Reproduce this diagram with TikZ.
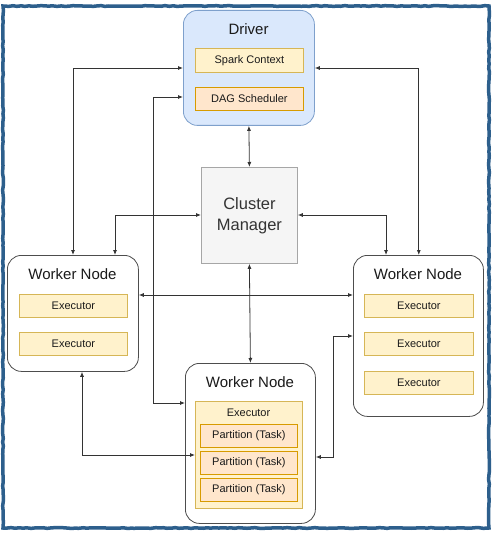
\documentclass[tikz,border=0pt]{standalone}
\usepackage{fontspec}
\setmainfont{Liberation Sans}
\usepackage{xcolor}
\usepackage{tikz}
\usetikzlibrary{calc,arrows.meta,decorations.pathmorphing}
\definecolor{framec}{HTML}{2D5F8C}
\definecolor{drvfill}{HTML}{DAE8FC}
\definecolor{drvdraw}{HTML}{7EA0CC}
\definecolor{ctxfill}{HTML}{FFF2CC}
\definecolor{ctxdraw}{HTML}{D6B656}
\definecolor{dagfill}{HTML}{FFE6CC}
\definecolor{dagdraw}{HTML}{D79B00}
\definecolor{mgrfill}{HTML}{F5F5F5}
\definecolor{mgrdraw}{HTML}{A6A6A6}
\definecolor{wrkdraw}{HTML}{4D4D4D}
\definecolor{linec}{HTML}{333333}
\definecolor{text}{HTML}{1A1A1A}
\tikzset{
  frame/.style={draw=framec, line width=3.5pt, decorate, decoration={random steps, segment length=4pt, amplitude=0.4pt}},
  cont/.style={anchor=north west, inner sep=0pt, line width=0.8pt, rounded corners=14pt},
  drv/.style={cont, draw=drvdraw, fill=drvfill},
  wrk/.style={cont, draw=wrkdraw, fill=white},
  mgr/.style={anchor=north west, inner sep=0pt, draw=mgrdraw, fill=mgrfill, line width=0.8pt,
    text=linec, align=center, font=\fontsize{16.5}{21}\selectfont},
  sub/.style={anchor=north west, inner sep=0pt, line width=0.8pt, text=text, font=\fontsize{11}{13}\selectfont},
  ctx/.style={sub, draw=ctxdraw, fill=ctxfill},
  dag/.style={sub, draw=dagdraw, fill=dagfill},
  ttl/.style={text=text, font=\fontsize{15}{18}\selectfont},
  lab/.style={text=text, font=\fontsize{11}{13}\selectfont},
  link/.style={draw=linec, line width=0.8pt, {Latex[length=5pt,width=4pt]}-{Latex[length=5pt,width=4pt]}},
}
\begin{document}
\begin{tikzpicture}[x=1pt,y=-1pt]
  \useasboundingbox (0,0) rectangle (494,534);
  \fill[white] (0,0) rectangle (494,534);
  \draw[frame] (3,6) rectangle (489,528);

  % driver
  \node[drv, minimum width=131pt, minimum height=115pt] (driver) at (183,10) {};
  \node[ttl] (drivert) at (248.5,29) {Driver};
  \node[ctx, minimum width=108pt, minimum height=24pt] (spark) at (195,48) {Spark Context};
  \node[dag, minimum width=108pt, minimum height=23pt] (sched) at (195,87) {DAG Scheduler};

  % cluster manager
  \node[mgr, minimum width=96pt, minimum height=96pt] (cm) at (201,167) {Cluster\\Manager};

  % worker nodes
  \node[wrk, minimum width=131pt, minimum height=116pt] (wleft) at (7,255) {};
  \node[ttl] (wleftt) at (72.5,274) {Worker Node};
  \node[ctx, minimum width=108pt, minimum height=23pt] (exl1) at (19,294) {Executor};
  \node[ctx, minimum width=108pt, minimum height=23pt] (exl2) at (19,332) {Executor};

  \node[wrk, minimum width=130pt, minimum height=161pt] (wright) at (353,255) {};
  \node[ttl] (wrightt) at (418,274) {Worker Node};
  \node[ctx, minimum width=109pt, minimum height=23pt] (exr1) at (364,294) {Executor};
  \node[ctx, minimum width=109pt, minimum height=23pt] (exr2) at (364,332) {Executor};
  \node[ctx, minimum width=109pt, minimum height=23pt] (exr3) at (364,371) {Executor};

  \node[wrk, minimum width=130pt, minimum height=160pt] (wbot) at (185,363) {};
  \node[ttl] (wbott) at (250,382) {Worker Node};
  \node[ctx, minimum width=107pt, minimum height=107pt] (exec) at (195,401) {};
  \node[lab] (exect) at (248.5,413) {Executor};
  \node[dag, minimum width=97pt, minimum height=23pt] (part1) at (200,424) {Partition (Task)};
  \node[dag, minimum width=97pt, minimum height=23pt] (part2) at (200,451) {Partition (Task)};
  \node[dag, minimum width=97pt, minimum height=23pt] (part3) at (200,478) {Partition (Task)};

  % connectors
  \draw[link] ([xshift=66pt]wleft.north west) |- ([yshift=-58pt]driver.north west);
  \draw[link] ([yshift=-40pt]wbot.north west) -- ++(-32,0) |- ([yshift=-87pt]driver.north west);
  \draw[link] ([yshift=-58pt]driver.north east) -| ([xshift=-65pt]wright.north east);
  \draw[link] (driver.south) -- (cm.north);
  \draw[link] ([yshift=-48pt]cm.north west) -| ([xshift=108pt]wleft.north west);
  \draw[link] ([yshift=-48pt]cm.north east) -| ([xshift=33pt]wright.north west);
  \draw[link] (cm.south) -- (wbot.north);
  \draw[link] ([yshift=-40pt]wleft.north east) -- ([yshift=-40pt]wright.north west);
  \draw[link] ([xshift=75pt]wleft.south west) |- ([yshift=-54pt]exec.north west);
  \draw[link] ([yshift=-81pt]wright.north west) -- ++(-20,0) |- ([yshift=-94pt]wbot.north east);
\end{tikzpicture}
\end{document}
